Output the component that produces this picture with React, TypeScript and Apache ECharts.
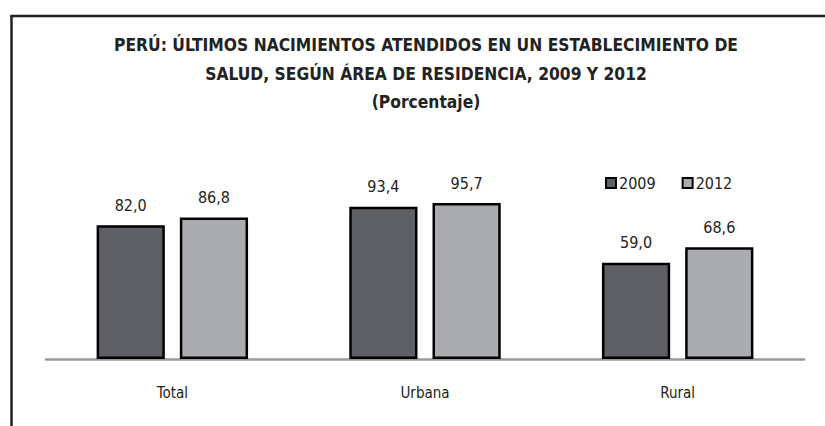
import React, { useEffect, useRef } from "react";
import * as echarts from "echarts";

const categories = ["Total", "Urbana", "Rural"];
const series2009 = [82.0, 93.4, 59.0];
const series2012 = [86.8, 95.7, 68.6];
const seriesNames = ["2009", "2012"];
const titleLines = [
  "PERÚ: ÚLTIMOS NACIMIENTOS ATENDIDOS EN UN ESTABLECIMIENTO DE",
  "SALUD, SEGÚN ÁREA DE RESIDENCIA, 2009 Y 2012",
  "(Porcentaje)",
];

const FONT = "'Liberation Sans Narrow', 'DejaVu Sans Condensed', 'Arial Narrow', sans-serif";

export default function App() {
  const ref = useRef<HTMLDivElement>(null);
  useEffect(() => {
    document.body.style.margin = "0";
    const chart = echarts.init(ref.current!, undefined, { renderer: "svg" });
    const fmt = (p: any) => Number(p.value).toFixed(1).replace(".", ",");
    chart.setOption({
      animation: false,
      backgroundColor: "#ffffff",
      textStyle: { fontFamily: FONT },
      title: {
        text: titleLines.join("\n"),
        left: 421,
        textAlign: "center",
        top: 26,
        textStyle: {
          fontFamily: FONT,
          fontWeight: "bold",
          fontSize: 17.3,
          lineHeight: 28.5,
          color: "#222222",
        },
      },
      graphic: [
        {
          type: "line",
          shape: { x1: 11.5, y1: 16, x2: 11.5, y2: 426 },
          style: { stroke: "#222222", lineWidth: 2.5 },
          silent: true,
        },
        {
          type: "line",
          shape: { x1: 10.25, y1: 16, x2: 825, y2: 16 },
          style: { stroke: "#222222", lineWidth: 2.5 },
          silent: true,
        },
      ],
      legend: {
        left: 600,
        top: 170,
        itemWidth: 10,
        itemHeight: 10,
        itemGap: 26,
        icon: "rect",
        textStyle: { fontFamily: FONT, fontSize: 16, color: "#222222", padding: [0, 0, 0, -2] },
        data: seriesNames,
      },
      grid: { left: 46, right: 21, top: 196, bottom: 67 },
      xAxis: {
        type: "category",
        data: categories,
        axisLine: { lineStyle: { color: "#9a9a9a", width: 2.5 } },
        axisTick: { show: false },
        axisLabel: { fontFamily: FONT, fontSize: 15, color: "#222222", margin: 26 },
      },
      yAxis: {
        type: "value",
        min: 0,
        max: 100,
        show: false,
        splitLine: { show: false },
      },
      series: [
        {
          name: seriesNames[0],
          type: "bar",
          data: series2009,
          barWidth: "27%",
          barGap: "22%",
          itemStyle: { color: "#5f6065", borderColor: "#000000", borderWidth: 2.5 },
          label: {
            show: true,
            position: "top",
            distance: 12,
            formatter: fmt,
            fontFamily: FONT,
            fontSize: 16,
            color: "#222222",
          },
        },
        {
          name: seriesNames[1],
          type: "bar",
          data: series2012,
          barWidth: "27%",
          barGap: "22%",
          itemStyle: { color: "#abacaf", borderColor: "#000000", borderWidth: 2.5 },
          label: {
            show: true,
            position: "top",
            distance: 12,
            formatter: fmt,
            fontFamily: FONT,
            fontSize: 16,
            color: "#222222",
          },
        },
      ],
    });
    return () => chart.dispose();
  }, []);
  return (
    <div
      ref={ref}
      style={{ position: "absolute", left: 0, top: 0, width: 825, height: 426 }}
    />
  );
}
